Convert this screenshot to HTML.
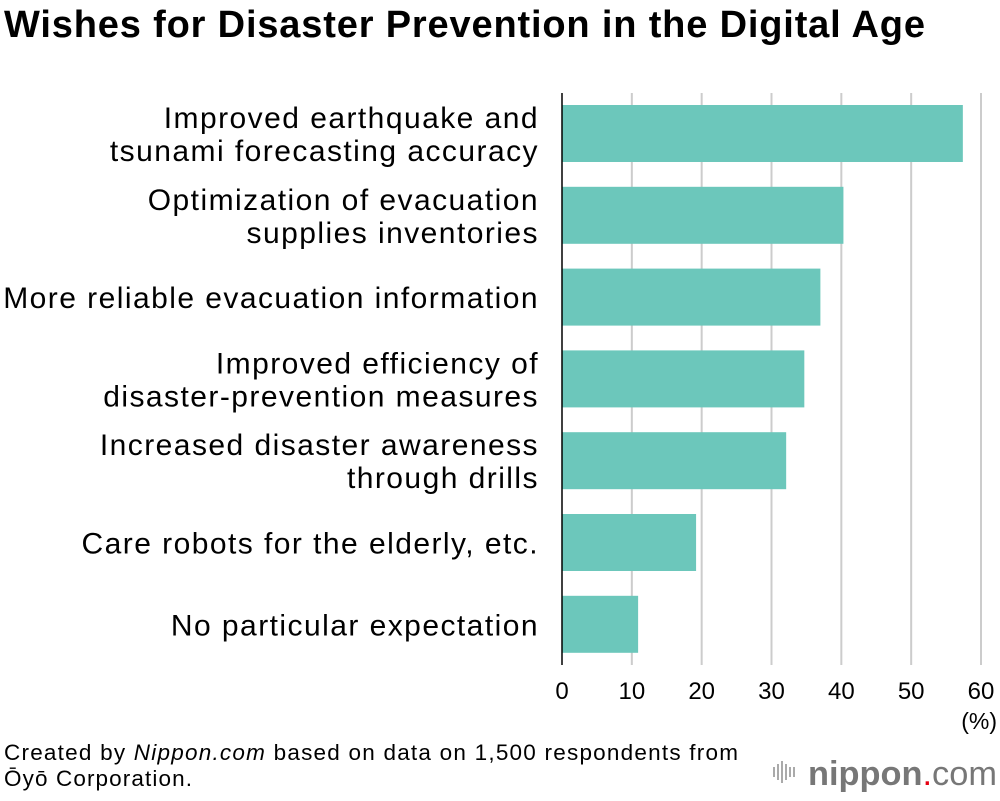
<!DOCTYPE html>
<html><head><meta charset="utf-8"><style>
body{margin:0;background:#fff;width:1000px;height:796px;overflow:hidden;font-family:"Liberation Sans",Arial,sans-serif}
</style></head><body>
<svg width="1000" height="796" id="c" xmlns="http://www.w3.org/2000/svg">
<text x="4" y="37" font-size="38" font-weight="bold" fill="#000" textLength="921" lengthAdjust="spacing">Wishes for Disaster Prevention in the Digital Age</text>
<g id="grid"></g><g id="bars"></g><g id="labels"></g><g id="ticks"></g>
<line x1="562" y1="93" x2="562" y2="665" stroke="#000" stroke-width="1.5"/>
<text x="997" y="729" font-size="23" text-anchor="end">(%)</text>
<text x="4" y="760" font-size="22.5" textLength="734" lengthAdjust="spacing"><tspan>Created by </tspan><tspan font-style="italic">Nippon.com</tspan><tspan> based on data on 1,500 respondents from</tspan></text>
<text x="4" y="786" font-size="22.5" textLength="188" lengthAdjust="spacing">Ōyō Corporation.</text>
<g>
<g fill="#aaa"><rect x="773" y="767" width="2" height="10"/><rect x="777" y="764" width="2" height="16"/><rect x="781" y="761" width="2" height="22"/><rect x="785" y="764" width="2" height="16"/><rect x="789" y="767" width="2" height="10"/><rect x="793" y="767" width="2" height="10"/></g>
<text x="808" y="785" font-size="34" fill="#777" textLength="189" lengthAdjust="spacingAndGlyphs"><tspan font-weight="bold">nippon</tspan><tspan fill="#e60012">.</tspan><tspan>com</tspan></text>
</g>
</svg>
<script>
const categories=[["Improved earthquake and","tsunami forecasting accuracy"],["Optimization of evacuation","supplies inventories"],["More reliable evacuation information"],["Improved efficiency of","disaster-prevention measures"],["Increased disaster awareness","through drills"],["Care robots for the elderly, etc."],["No particular expectation"]];
const values=[57.4,40.3,37.0,34.7,32.1,19.2,10.9];
const tickLabels=[0,10,20,30,40,50,60];
const NS="http://www.w3.org/2000/svg";
const x=v=>562+v*(419/60);
const yTop=i=>105+i*81.8;
const bh=57;
function mk(t,a,p){const e=document.createElementNS(NS,t);for(const k in a)e.setAttribute(k,a[k]);document.getElementById(p).appendChild(e);return e;}
tickLabels.forEach(t=>{
 if(t>0){const g=mk('line',{x1:x(t),x2:x(t),y1:93,y2:665,stroke:'#ccc','stroke-width':2},'grid');
 
 }
 const l=mk('text',{x:x(t),y:699,'font-size':24,'text-anchor':'middle'},'ticks');
 l.textContent=t;
 
 
});
values.forEach((v,i)=>{
 const r=mk('rect',{x:x(0),y:yTop(i),width:x(v)-x(0),height:bh,fill:'#6cc7bb'},'bars');
 
 
 const lines=categories[i];const cy=yTop(i)+bh/2;
 lines.forEach((s,j)=>{
  const t=mk('text',{x:539,y:cy+11+(j-(lines.length-1)/2)*33,'font-size':30,'letter-spacing':1.45,'text-anchor':'end'},'labels');
  t.textContent=s;
  
  
 });
});
</script>
</body></html>
